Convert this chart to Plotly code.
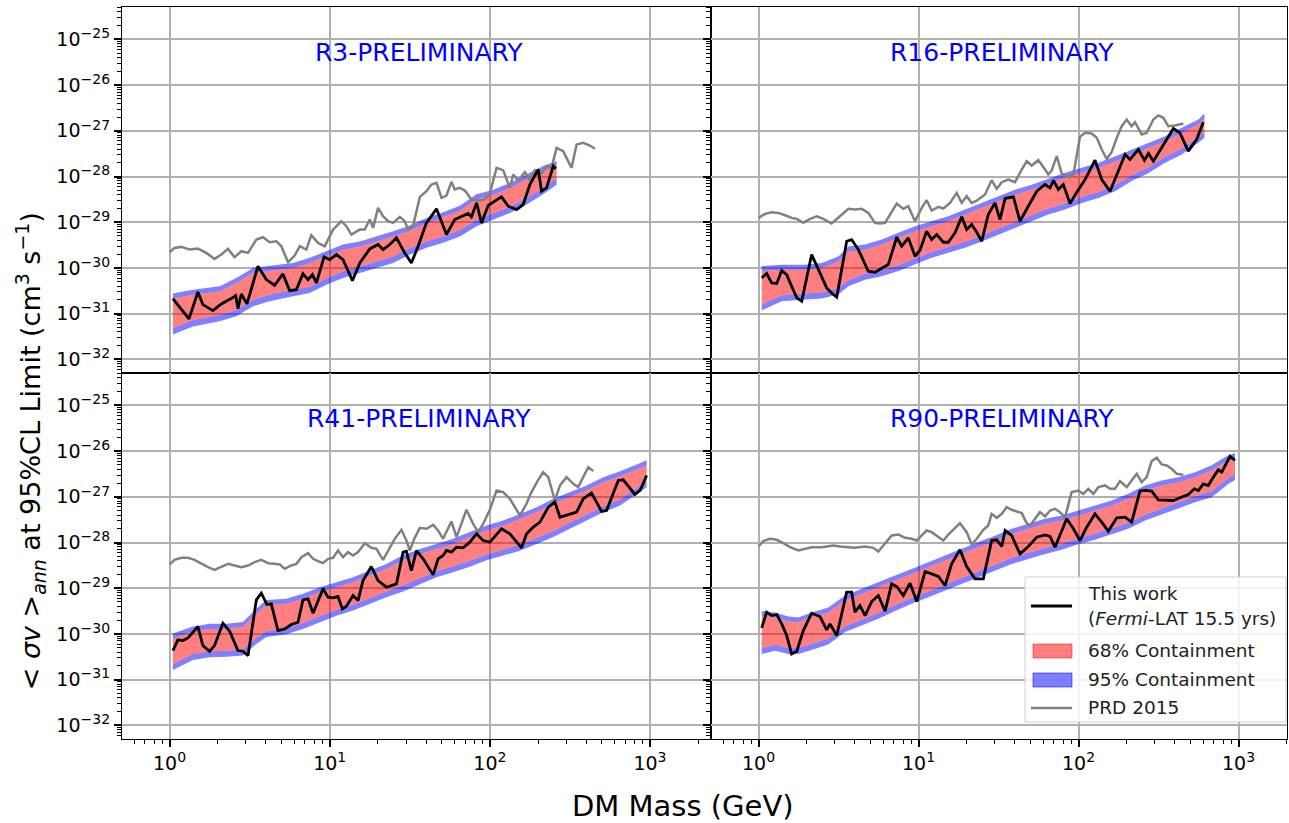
import numpy as np
import plotly.graph_objects as go
from plotly.subplots import make_subplots

# ---------------- data (log10 mass [GeV], log10 <sigma v> [cm^3 s^-1]) ----------------
# R3
r3_this_work = [(0.021,-30.672),(0.121,-31.117),(0.177,-30.526),(0.208,-30.803),(0.271,-30.934),(0.323,-30.788),
    (0.385,-30.672),(0.413,-30.606),(0.427,-30.891),(0.448,-30.570),(0.483,-30.788),(0.552,-29.964),(0.604,-30.256),
    (0.656,-30.380),(0.708,-30.132),(0.750,-30.497),(0.792,-30.475),(0.833,-30.124),(0.865,-30.256),(0.892,-30.146),
    (0.917,-30.329),(0.965,-29.759),(1.000,-29.818),(1.042,-29.708),(1.083,-29.818),(1.142,-30.278),(1.188,-29.891),
    (1.250,-29.584),(1.302,-29.489),(1.333,-29.599),(1.375,-29.489),(1.417,-29.343),(1.469,-29.672),(1.510,-29.891),
    (1.552,-29.526),(1.604,-29.015),(1.667,-28.708),(1.729,-29.270),(1.781,-28.942),(1.823,-28.869),(1.865,-28.810),
    (1.885,-28.883),(1.917,-28.577),(1.948,-29.015),(1.990,-28.635),(2.021,-28.562),(2.073,-28.445),(2.115,-28.650),
    (2.167,-28.723),(2.208,-28.613),(2.250,-28.175),(2.302,-27.847),(2.323,-28.321),(2.354,-28.248),(2.396,-27.774),
    (2.413,-27.832)]
r3_prd2015 = [(0.000,-29.657),(0.031,-29.562),(0.073,-29.540),(0.125,-29.599),(0.177,-29.577),(0.229,-29.672),
    (0.281,-29.803),(0.323,-29.708),(0.365,-29.584),(0.406,-29.767),(0.448,-29.635),(0.490,-29.672),(0.542,-29.380),
    (0.583,-29.329),(0.625,-29.438),(0.667,-29.416),(0.698,-29.526),(0.740,-29.876),(0.781,-29.730),(0.813,-29.526),
    (0.854,-29.599),(0.885,-29.285),(0.927,-29.453),(0.969,-29.526),(1.021,-29.161),(1.073,-28.978),(1.104,-29.088),
    (1.135,-29.270),(1.188,-29.161),(1.219,-29.161),(1.250,-28.942),(1.271,-29.124),(1.302,-28.686),(1.333,-28.869),
    (1.365,-28.978),(1.396,-29.015),(1.438,-28.883),(1.469,-28.978),(1.490,-29.161),(1.521,-29.073),(1.563,-28.445),
    (1.604,-28.321),(1.635,-28.175),(1.667,-28.139),(1.698,-28.467),(1.729,-28.416),(1.760,-28.117),(1.781,-28.285),
    (1.813,-28.248),(1.844,-28.307),(1.885,-28.504),(1.927,-28.526),(1.969,-28.504),(2.000,-28.372),(2.042,-27.810),
    (2.083,-27.861),(2.125,-28.248),(2.146,-27.956),(2.177,-28.088),(2.219,-27.905),(2.250,-28.066),(2.281,-27.861),
    (2.323,-27.934),(2.354,-27.774),(2.385,-27.810),(2.417,-27.372),(2.458,-27.445),(2.510,-27.810),(2.542,-27.299),
    (2.583,-27.263),(2.625,-27.321),(2.656,-27.394)]
r3_band_logm = [0.021,0.146,0.313,0.417,0.521,0.625,0.771,0.875,0.979,1.083,1.188,1.292,1.396,1.500,1.604,1.708,
    1.813,1.917,2.021,2.125,2.229,2.333,2.417]
r3_hi95 = [-30.56,-30.48,-30.40,-30.22,-30.00,-29.95,-29.89,-29.78,-29.64,-29.49,-29.42,-29.31,-29.20,-29.07,-28.91,
    -28.78,-28.64,-28.39,-28.29,-28.14,-27.96,-27.77,-27.66]
r3_hi68 = [-30.67,-30.59,-30.51,-30.33,-30.11,-30.06,-30.00,-29.89,-29.75,-29.60,-29.53,-29.42,-29.31,-29.18,-29.02,
    -28.89,-28.75,-28.50,-28.40,-28.25,-28.07,-27.88,-27.77]
r3_lo68 = [-31.32,-31.14,-31.03,-30.92,-30.70,-30.59,-30.48,-30.41,-30.23,-30.08,-29.97,-29.86,-29.75,-29.57,-29.42,
    -29.31,-29.17,-28.95,-28.80,-28.66,-28.47,-28.25,-28.04]
r3_lo95 = [-31.46,-31.28,-31.17,-31.06,-30.84,-30.73,-30.62,-30.55,-30.37,-30.22,-30.11,-30.00,-29.89,-29.71,-29.56,
    -29.45,-29.31,-29.09,-28.94,-28.80,-28.61,-28.39,-28.18]

# R16
r16_this_work = [(0.020,-30.219),(0.051,-30.124),(0.082,-30.329),(0.114,-30.343),(0.145,-30.059),(0.176,-30.146),
    (0.207,-30.402),(0.239,-30.657),(0.270,-30.730),(0.332,-29.708),(0.384,-30.110),(0.426,-30.438),(0.457,-30.548),
    (0.489,-30.642),(0.551,-29.416),(0.582,-29.380),(0.624,-29.599),(0.686,-30.073),(0.728,-30.095),(0.780,-30.000),
    (0.811,-29.927),(0.864,-29.329),(0.895,-29.526),(0.936,-29.343),(0.978,-29.745),(1.009,-29.613),(1.051,-29.197),
    (1.082,-29.380),(1.114,-29.270),(1.155,-29.438),(1.186,-29.438),(1.228,-29.234),(1.270,-28.883),(1.301,-29.161),
    (1.332,-29.051),(1.364,-29.219),(1.395,-29.416),(1.436,-28.832),(1.478,-28.577),(1.509,-28.942),(1.541,-28.482),
    (1.593,-28.445),(1.634,-28.978),(1.686,-28.650),(1.739,-28.321),(1.791,-28.175),(1.822,-28.248),(1.843,-28.088),
    (1.874,-28.285),(1.905,-28.175),(1.947,-28.591),(1.989,-28.343),(2.041,-28.066),(2.103,-27.642),(2.145,-28.066),
    (2.197,-28.321),(2.249,-27.883),(2.291,-27.518),(2.322,-27.628),(2.374,-27.409),(2.412,-27.642),(2.437,-27.496),
    (2.468,-27.664),(2.499,-27.482),(2.541,-27.263),(2.593,-26.949),(2.634,-27.044),(2.686,-27.445),(2.738,-27.190),
    (2.780,-26.810)]
r16_prd2015 = [(0.000,-28.905),(0.041,-28.818),(0.082,-28.781),(0.124,-28.796),(0.166,-28.847),(0.207,-28.905),
    (0.239,-28.927),(0.280,-29.015),(0.322,-28.927),(0.364,-28.869),(0.405,-28.927),(0.457,-29.029),(0.509,-28.869),
    (0.562,-28.708),(0.603,-28.723),(0.645,-28.708),(0.686,-28.796),(0.728,-29.015),(0.759,-29.029),(0.791,-29.015),
    (0.822,-28.832),(0.864,-28.591),(0.905,-28.708),(0.936,-28.650),(0.978,-28.978),(1.020,-28.686),(1.051,-28.518),
    (1.082,-28.745),(1.124,-28.664),(1.155,-28.701),(1.197,-28.577),(1.239,-28.358),(1.270,-28.577),(1.301,-28.431),
    (1.332,-28.577),(1.364,-28.526),(1.416,-28.394),(1.457,-28.080),(1.489,-28.270),(1.520,-28.124),(1.561,-28.066),
    (1.603,-28.124),(1.645,-27.847),(1.676,-27.664),(1.707,-27.759),(1.749,-27.642),(1.791,-27.847),(1.811,-27.956),
    (1.832,-27.869),(1.864,-27.555),(1.895,-27.934),(1.926,-28.007),(1.968,-27.956),(2.009,-27.132),(2.041,-27.044),
    (2.082,-27.059),(2.114,-27.153),(2.145,-27.409),(2.176,-27.613),(2.207,-27.467),(2.239,-27.153),(2.270,-26.898),
    (2.301,-26.752),(2.332,-26.898),(2.353,-26.810),(2.395,-27.080),(2.426,-27.044),(2.468,-26.752),(2.499,-26.664),
    (2.530,-26.715),(2.561,-26.898),(2.603,-26.883),(2.655,-26.840)]
r16_band_logm = [0.020,0.145,0.291,0.395,0.499,0.561,0.666,0.770,0.874,0.978,1.082,1.186,1.291,1.395,1.499,1.603,
    1.707,1.811,1.916,2.020,2.124,2.228,2.332,2.436,2.541,2.645,2.749,2.787]
r16_hi95 = [-29.96,-29.93,-29.93,-29.89,-29.75,-29.53,-29.49,-29.38,-29.23,-29.09,-28.98,-28.87,-28.72,-28.58,-28.43,
    -28.29,-28.18,-28.05,-27.92,-27.81,-27.70,-27.56,-27.41,-27.26,-27.12,-26.93,-26.75,-26.62]
r16_hi68 = [-30.07,-30.04,-30.04,-30.00,-29.86,-29.64,-29.60,-29.49,-29.34,-29.20,-29.09,-28.98,-28.83,-28.69,-28.54,
    -28.40,-28.29,-28.16,-28.03,-27.92,-27.81,-27.67,-27.52,-27.37,-27.23,-27.04,-26.86,-26.73]
r16_lo68 = [-30.80,-30.60,-30.56,-30.54,-30.45,-30.27,-30.13,-30.05,-29.94,-29.80,-29.65,-29.54,-29.43,-29.29,-29.14,
    -28.99,-28.85,-28.70,-28.59,-28.45,-28.34,-28.19,-27.97,-27.80,-27.57,-27.39,-27.13,-27.02]
r16_lo95 = [-30.93,-30.73,-30.69,-30.67,-30.58,-30.40,-30.26,-30.18,-30.07,-29.93,-29.78,-29.67,-29.56,-29.42,-29.27,
    -29.12,-28.98,-28.83,-28.72,-28.58,-28.47,-28.32,-28.10,-27.93,-27.70,-27.52,-27.26,-27.15]

# R41
r41_this_work = [(0.021,-30.365),(0.052,-30.131),(0.083,-30.146),(0.115,-30.087),(0.146,-29.963),(0.177,-29.839),
    (0.208,-30.255),(0.250,-30.379),(0.281,-30.255),(0.333,-29.766),(0.375,-29.941),(0.427,-30.365),(0.458,-30.379),
    (0.490,-30.474),(0.542,-29.255),(0.573,-29.109),(0.608,-29.357),(0.635,-29.343),(0.677,-29.927),(0.719,-29.890),
    (0.760,-29.795),(0.802,-29.744),(0.833,-29.255),(0.865,-29.233),(0.896,-29.547),(0.933,-29.233),(0.958,-29.014),
    (0.990,-29.197),(1.021,-29.211),(1.052,-29.182),(1.079,-29.452),(1.104,-29.394),(1.146,-29.160),(1.177,-29.270),
    (1.208,-28.832),(1.260,-28.525),(1.302,-28.832),(1.354,-28.978),(1.417,-28.905),(1.458,-28.211),(1.479,-28.189),
    (1.510,-28.613),(1.542,-28.175),(1.583,-28.357),(1.646,-28.708),(1.677,-28.357),(1.708,-28.284),(1.729,-28.175),
    (1.760,-28.211),(1.792,-28.102),(1.833,-28.116),(1.875,-27.992),(1.917,-27.810),(1.958,-27.956),(2.000,-27.992),
    (2.073,-27.700),(2.125,-27.810),(2.198,-28.116),(2.229,-27.810),(2.271,-27.664),(2.313,-27.554),(2.365,-27.226),
    (2.406,-27.116),(2.438,-27.445),(2.490,-27.386),(2.542,-27.335),(2.583,-27.043),(2.635,-26.919),(2.698,-27.321),
    (2.729,-27.299),(2.802,-26.642),(2.833,-26.627),(2.906,-26.948),(2.938,-26.861),(2.979,-26.532)]
r41_prd2015 = [(0.000,-28.481),(0.031,-28.379),(0.073,-28.335),(0.115,-28.335),(0.156,-28.379),(0.198,-28.467),
    (0.240,-28.540),(0.281,-28.598),(0.323,-28.525),(0.365,-28.467),(0.406,-28.503),(0.448,-28.540),(0.490,-28.503),
    (0.531,-28.430),(0.573,-28.379),(0.615,-28.452),(0.656,-28.467),(0.688,-28.481),(0.719,-28.576),(0.760,-28.503),
    (0.792,-28.467),(0.823,-28.321),(0.865,-28.233),(0.896,-28.357),(0.927,-28.408),(0.958,-28.452),(0.990,-28.357),
    (1.021,-28.335),(1.052,-28.175),(1.083,-28.321),(1.115,-28.211),(1.146,-28.284),(1.177,-28.211),(1.219,-28.014),
    (1.260,-28.116),(1.292,-28.138),(1.333,-28.379),(1.375,-28.102),(1.406,-27.919),(1.448,-27.722),(1.479,-27.956),
    (1.500,-28.175),(1.531,-27.897),(1.563,-27.678),(1.604,-27.700),(1.646,-27.613),(1.677,-27.737),(1.708,-27.919),
    (1.740,-27.664),(1.760,-27.540),(1.792,-27.883),(1.823,-27.591),(1.854,-27.284),(1.896,-27.591),(1.927,-27.773),
    (1.958,-27.591),(2.000,-27.284),(2.042,-26.861),(2.083,-26.897),(2.125,-27.043),(2.156,-27.226),(2.188,-27.408),
    (2.229,-27.153),(2.260,-26.897),(2.302,-26.627),(2.333,-26.459),(2.365,-26.569),(2.406,-27.080),(2.438,-26.751),
    (2.479,-26.569),(2.521,-26.715),(2.552,-26.788),(2.583,-26.569),(2.615,-26.350),(2.646,-26.438)]
r41_band_logm = [0.021,0.146,0.250,0.354,0.458,0.542,0.604,0.729,0.833,0.938,1.042,1.146,1.250,1.354,1.458,1.563,
    1.667,1.771,1.875,1.979,2.083,2.188,2.292,2.396,2.500,2.604,2.708,2.813,2.917,2.979]
r41_hi95 = [-29.99,-29.84,-29.78,-29.78,-29.74,-29.45,-29.26,-29.23,-29.12,-28.98,-28.87,-28.76,-28.61,-28.47,-28.28,
    -28.14,-28.03,-27.92,-27.77,-27.63,-27.52,-27.37,-27.23,-27.04,-26.90,-26.75,-26.57,-26.44,-26.29,-26.20]
r41_hi68 = [-30.10,-29.95,-29.89,-29.89,-29.85,-29.56,-29.37,-29.34,-29.23,-29.09,-28.98,-28.87,-28.72,-28.58,-28.39,
    -28.25,-28.14,-28.03,-27.88,-27.74,-27.63,-27.48,-27.34,-27.15,-27.01,-26.86,-26.68,-26.55,-26.40,-26.31]
r41_lo68 = [-30.66,-30.44,-30.38,-30.37,-30.34,-30.09,-29.94,-29.88,-29.76,-29.61,-29.47,-29.36,-29.21,-29.07,-28.94,
    -28.78,-28.63,-28.52,-28.40,-28.26,-28.15,-28.05,-27.90,-27.75,-27.57,-27.39,-27.21,-27.06,-26.80,-26.66]
r41_lo95 = [-30.79,-30.57,-30.51,-30.50,-30.47,-30.22,-30.07,-30.01,-29.89,-29.74,-29.60,-29.49,-29.34,-29.20,-29.07,
    -28.91,-28.76,-28.65,-28.53,-28.39,-28.28,-28.18,-28.03,-27.88,-27.70,-27.52,-27.34,-27.19,-26.93,-26.79]

# R90
r90_this_work = [(0.020,-29.868),(0.051,-29.525),(0.082,-29.598),(0.114,-29.576),(0.145,-29.781),(0.176,-30.036),
    (0.207,-30.438),(0.239,-30.379),(0.280,-29.927),(0.332,-29.547),(0.384,-29.620),(0.426,-29.912),(0.447,-29.781),
    (0.489,-30.036),(0.551,-29.087),(0.582,-29.087),(0.603,-29.525),(0.634,-29.379),(0.666,-29.598),(0.707,-29.292),
    (0.749,-29.160),(0.791,-29.503),(0.832,-28.905),(0.864,-28.963),(0.905,-29.160),(0.947,-28.890),(0.989,-29.292),
    (1.041,-28.635),(1.082,-28.686),(1.124,-28.744),(1.166,-28.941),(1.207,-28.467),(1.259,-28.160),(1.301,-28.525),
    (1.353,-28.795),(1.405,-28.795),(1.457,-27.956),(1.489,-27.941),(1.520,-28.087),(1.541,-27.737),(1.582,-27.846),
    (1.634,-28.248),(1.686,-28.087),(1.739,-27.883),(1.791,-27.832),(1.822,-27.868),(1.853,-28.102),(1.926,-27.481),
    (1.968,-27.700),(2.009,-27.956),(2.051,-27.664),(2.103,-27.372),(2.145,-27.554),(2.186,-27.751),(2.239,-27.459),
    (2.291,-27.445),(2.332,-27.554),(2.384,-26.875),(2.416,-26.861),(2.457,-26.875),(2.499,-27.065),(2.541,-27.065),
    (2.593,-27.080),(2.634,-27.021),(2.686,-26.948),(2.724,-26.824),(2.749,-26.861),(2.780,-26.715),(2.811,-26.751),
    (2.843,-26.569),(2.874,-26.408),(2.895,-26.459),(2.916,-26.313),(2.947,-26.116),(2.978,-26.204)]
r90_prd2015 = [(0.000,-28.087),(0.030,-27.970),(0.072,-27.919),(0.114,-27.941),(0.155,-28.014),(0.197,-28.102),
    (0.249,-28.175),(0.291,-28.138),(0.332,-28.102),(0.395,-28.102),(0.468,-28.065),(0.509,-28.087),(0.561,-28.102),
    (0.603,-28.116),(0.666,-28.087),(0.718,-28.116),(0.749,-28.197),(0.791,-28.029),(0.832,-27.846),(0.874,-27.824),
    (0.916,-27.897),(0.957,-27.919),(0.989,-27.956),(1.020,-27.846),(1.051,-27.737),(1.082,-27.773),(1.124,-27.883),
    (1.155,-27.956),(1.186,-27.824),(1.228,-27.678),(1.259,-27.576),(1.301,-27.773),(1.332,-28.043),(1.364,-27.919),
    (1.405,-27.722),(1.436,-27.627),(1.457,-27.372),(1.489,-27.459),(1.520,-27.372),(1.551,-27.226),(1.582,-27.284),
    (1.645,-27.357),(1.676,-27.576),(1.697,-27.627),(1.728,-27.481),(1.759,-27.335),(1.791,-27.430),(1.822,-27.299),
    (1.853,-27.262),(1.884,-27.335),(1.916,-27.445),(1.957,-26.897),(1.999,-26.861),(2.030,-26.934),(2.061,-26.824),
    (2.093,-26.934),(2.124,-26.788),(2.166,-26.751),(2.197,-26.824),(2.228,-26.824),(2.259,-26.657),(2.301,-26.788),
    (2.332,-26.642),(2.364,-26.496),(2.395,-26.678),(2.426,-26.569),(2.457,-26.219),(2.489,-26.146),(2.520,-26.292),
    (2.551,-26.313),(2.582,-26.386),(2.614,-26.496),(2.655,-26.518)]
r90_band_logm = [0.020,0.103,0.186,0.249,0.332,0.436,0.541,0.645,0.749,0.853,0.957,1.061,1.166,1.270,1.374,1.478,
    1.582,1.686,1.791,1.895,1.999,2.103,2.207,2.311,2.416,2.520,2.624,2.728,2.832,2.936,2.978]
r90_hi95 = [-29.50,-29.53,-29.62,-29.64,-29.53,-29.42,-29.16,-29.01,-28.87,-28.72,-28.58,-28.43,-28.28,-28.14,-27.99,
    -27.85,-27.70,-27.59,-27.48,-27.41,-27.30,-27.19,-27.08,-26.93,-26.75,-26.64,-26.57,-26.46,-26.31,-26.09,-26.04]
r90_hi68 = [-29.61,-29.63,-29.73,-29.74,-29.63,-29.53,-29.27,-29.12,-28.98,-28.83,-28.69,-28.54,-28.39,-28.25,-28.10,
    -27.96,-27.81,-27.70,-27.59,-27.52,-27.41,-27.30,-27.19,-27.04,-26.86,-26.75,-26.68,-26.57,-26.42,-26.20,-26.15]
r90_lo68 = [-30.31,-30.24,-30.31,-30.31,-30.22,-30.10,-29.83,-29.69,-29.54,-29.37,-29.21,-29.07,-28.92,-28.78,-28.63,
    -28.48,-28.34,-28.23,-28.12,-28.03,-27.91,-27.81,-27.69,-27.57,-27.39,-27.26,-27.13,-26.99,-26.88,-26.59,-26.50]
r90_lo95 = [-30.44,-30.37,-30.44,-30.44,-30.35,-30.23,-29.96,-29.82,-29.67,-29.50,-29.34,-29.20,-29.05,-28.91,-28.76,
    -28.61,-28.47,-28.36,-28.25,-28.16,-28.04,-27.94,-27.82,-27.70,-27.52,-27.39,-27.26,-27.12,-27.01,-26.72,-26.63]

panel_titles = ["R3-PRELIMINARY", "R16-PRELIMINARY", "R41-PRELIMINARY", "R90-PRELIMINARY"]
legend_labels = ["This work", "(<i>Fermi</i>-LAT 15.5 yrs)", "68% Containment", "95% Containment", "PRD 2015"]
y_exponents = [-32, -31, -30, -29, -28, -27, -26, -25]
x_exponents = [0, 1, 2, 3]

# ---------------- figure ----------------
FONT = "DejaVu Sans"
W, H = 1289, 823
ML, MR, MT, MB = 122, 2, 7, 84
PW, PH = W - ML - MR, H - MT - MB

fig = make_subplots(rows=2, cols=2, horizontal_spacing=0, vertical_spacing=0,
                    column_widths=[589, 576])

panels = [
    (1, 1, r3_this_work, r3_prd2015, r3_band_logm, r3_lo95, r3_lo68, r3_hi68, r3_hi95),
    (1, 2, r16_this_work, r16_prd2015, r16_band_logm, r16_lo95, r16_lo68, r16_hi68, r16_hi95),
    (2, 1, r41_this_work, r41_prd2015, r41_band_logm, r41_lo95, r41_lo68, r41_hi68, r41_hi95),
    (2, 2, r90_this_work, r90_prd2015, r90_band_logm, r90_lo95, r90_lo68, r90_hi68, r90_hi95),
]


def lin(v):
    return 10.0 ** np.asarray(v, dtype=float)


BLUE = "rgba(0,0,255,0.5)"
RED = "rgba(255,0,0,0.5)"
GRAY = "#808080"

for (r, c, work, prd, bx, lo95, lo68, hi68, hi95) in panels:
    bxl = lin(bx)
    fig.add_trace(go.Scatter(x=bxl, y=lin(lo95), mode="lines", line=dict(width=0),
                             showlegend=False, hoverinfo="skip"), row=r, col=c)
    fig.add_trace(go.Scatter(x=bxl, y=lin(lo68), mode="lines", line=dict(width=0),
                             fill="tonexty", fillcolor=BLUE, showlegend=False,
                             hoverinfo="skip"), row=r, col=c)
    fig.add_trace(go.Scatter(x=bxl, y=lin(hi68), mode="lines", line=dict(width=0),
                             fill="tonexty", fillcolor=RED, name="68% Containment",
                             showlegend=False, hoverinfo="skip"), row=r, col=c)
    fig.add_trace(go.Scatter(x=bxl, y=lin(hi95), mode="lines", line=dict(width=0),
                             fill="tonexty", fillcolor=BLUE, name="95% Containment",
                             showlegend=False, hoverinfo="skip"), row=r, col=c)
    px, py = zip(*prd)
    fig.add_trace(go.Scatter(x=lin(px), y=lin(py), mode="lines",
                             line=dict(color=GRAY, width=2.5), name="PRD 2015",
                             showlegend=False), row=r, col=c)
    wx, wy = zip(*work)
    fig.add_trace(go.Scatter(x=lin(wx), y=lin(wy), mode="lines",
                             line=dict(color="black", width=2.8),
                             name="This work (Fermi-LAT 15.5 yrs)",
                             showlegend=False), row=r, col=c)

SUP = "<sup><span style='font-size:14px'>%s</span></sup>"
y_major = [10.0 ** e for e in y_exponents]
y_text = ["10" + SUP % ("\u2212%d" % (-e)) for e in y_exponents]
y_minor = [k * 10.0 ** e for e in range(-33, -23) for k in range(2, 10)]
x_major = [10.0 ** e for e in x_exponents]
x_text = ["10" + SUP % ("%d" % e) for e in x_exponents]
x_minor = [k * 10.0 ** e for e in range(-1, 4) for k in range(2, 10)]

common = dict(showgrid=True, gridcolor="#b0b0b0", gridwidth=1.5, showline=True,
              linecolor="black", linewidth=1.2, mirror=True, zeroline=False,
              tickfont=dict(family=FONT, size=19, color="black"))

x_ranges = {1: [-0.297, 3.381], 2: [-0.297, 3.303]}
for r in (1, 2):
    for c in (1, 2):
        bottom = (r == 2)
        fig.update_xaxes(type="log", range=x_ranges[c], tickmode="array",
                         tickvals=x_major, ticktext=x_text,
                         showticklabels=bottom,
                         ticks="outside" if bottom else "", ticklen=7, tickwidth=1.5,
                         tickcolor="black",
                         minor=dict(tickmode="array", tickvals=x_minor,
                                    ticks="outside" if bottom else "", ticklen=4,
                                    tickwidth=1, tickcolor="black", showgrid=False),
                         row=r, col=c, **common)
        fig.update_yaxes(type="log", range=[-32.3, -24.29], tickmode="array",
                         tickvals=y_major, ticktext=y_text,
                         showticklabels=(c == 1),
                         ticks="outside", ticklen=7, tickwidth=1.5, tickcolor="black",
                         minor=dict(tickmode="array", tickvals=y_minor, ticks="outside",
                                    ticklen=4, tickwidth=1, tickcolor="black",
                                    showgrid=False),
                         row=r, col=c, **common)

axis_names = [("x", "y"), ("x2", "y2"), ("x3", "y3"), ("x4", "y4")]
for (xa, ya), title in zip(axis_names, panel_titles):
    fig.add_annotation(text=title, xref=xa + " domain", yref=ya + " domain",
                       x=0.505, y=0.875, xanchor="center", yanchor="middle",
                       showarrow=False, font=dict(family=FONT, size=25, color="#0000ff"))

fig.add_annotation(text="DM Mass (GeV)", xref="paper", yref="paper", x=0.4815, y=-0.0915,
                   xanchor="center", yanchor="middle", showarrow=False,
                   font=dict(family=FONT, size=29, color="black"))
fig.add_annotation(text="< <i>\u03c3v</i> ><sub><i>ann</i></sub> at 95%CL Limit (cm<sup>3</sup> s<sup>\u22121</sup>)",
                   xref="paper", yref="paper", x=-0.079, y=0.393, textangle=-90,
                   xanchor="center", yanchor="middle", showarrow=False,
                   font=dict(family=FONT, size=27, color="black"))


# ---------------- legend (drawn by hand, matplotlib style) ----------------
def PX(X):
    return (X - ML) / PW


def PY(Y):
    return (H - MB - Y) / PH


shapes = [
    dict(type="rect", xref="paper", yref="paper", x0=PX(1025), x1=PX(1286), y0=PY(722), y1=PY(577),
         fillcolor="rgba(255,255,255,0.85)", line=dict(color="#d0d0d0", width=1), layer="above"),
    dict(type="line", xref="paper", yref="paper", x0=PX(1031), x1=PX(1072), y0=PY(606), y1=PY(606),
         line=dict(color="black", width=2.8), layer="above"),
    dict(type="rect", xref="paper", yref="paper", x0=PX(1033), x1=PX(1072), y0=PY(658), y1=PY(644),
         fillcolor=RED, line=dict(color=RED, width=1), layer="above"),
    dict(type="rect", xref="paper", yref="paper", x0=PX(1033), x1=PX(1072), y0=PY(687), y1=PY(673),
         fillcolor=BLUE, line=dict(color=BLUE, width=1), layer="above"),
    dict(type="line", xref="paper", yref="paper", x0=PX(1031), x1=PX(1072), y0=PY(708), y1=PY(708),
         line=dict(color=GRAY, width=2.5), layer="above"),
]
fig.update_layout(shapes=shapes)
for label, ycen in zip(legend_labels, [593, 618, 650, 679, 707]):
    fig.add_annotation(text=label, xref="paper", yref="paper", x=PX(1086), y=PY(ycen),
                       xanchor="left", yanchor="middle", showarrow=False,
                       font=dict(family=FONT, size=18.5, color="#222222"))

fig.update_layout(
    width=W, height=H,
    margin=dict(l=ML, r=MR, t=MT, b=MB),
    paper_bgcolor="white", plot_bgcolor="white",
    font=dict(family=FONT, color="black"),
    showlegend=False,
)

fig.write_html("out.html")
